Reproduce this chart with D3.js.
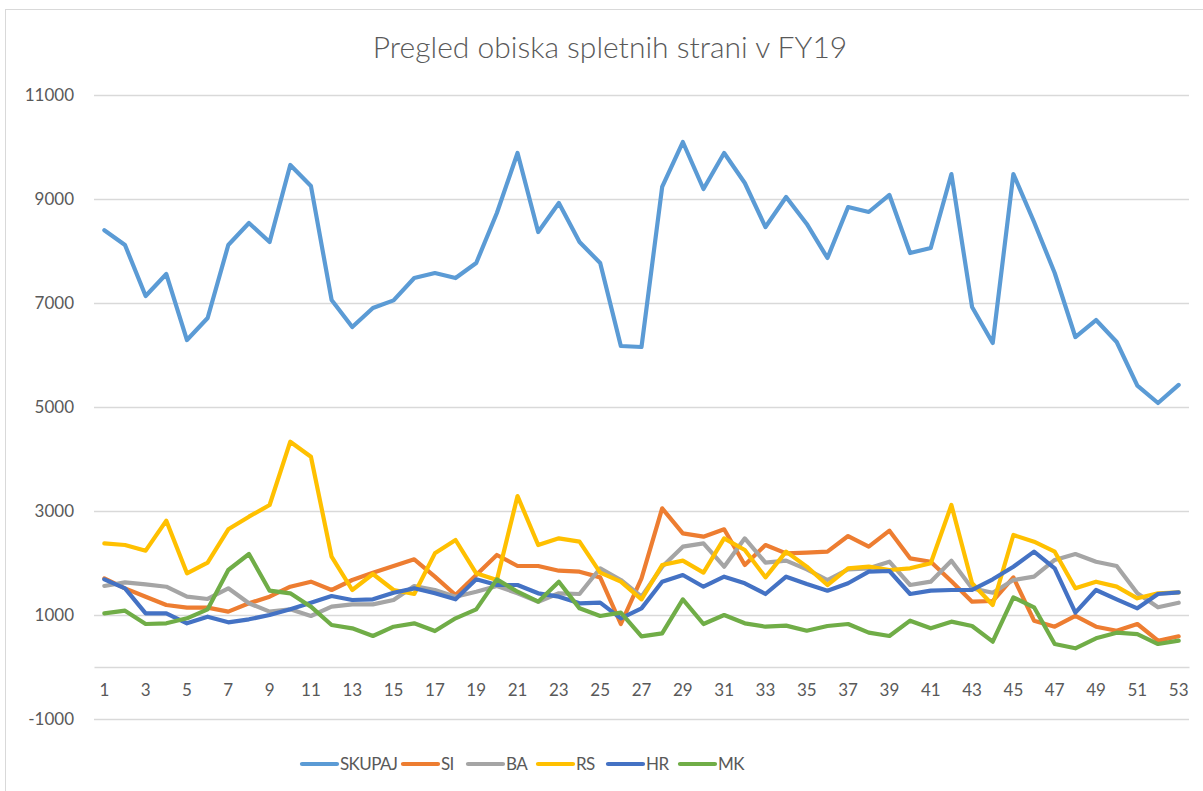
<!DOCTYPE html>
<html><head><meta charset="utf-8">
<script src="https://cdn.jsdelivr.net/npm/d3@7"></script>
<style>html,body{margin:0;padding:0;background:#fff;}svg{display:block;font-family:Lato,"Open Sans",sans-serif;}</style>
</head><body>
<svg id="c" width="1203" height="791"></svg>
<script>
const weeks = d3.range(1, 54);
const seriesNames = ["SKUPAJ","SI","BA","RS","HR","MK"];
const seriesColors = ["#5B9BD5","#ED7D31","#A5A5A5","#FFC000","#4472C4","#70AD47"];
const yTicks = [-1000,1000,3000,5000,7000,9000,11000];

const skupaj = [8400,8115,7135,7557,6288,6711,8115,8538,8173,9654,9250,7058,6538,6904,7050,7480,7577,7480,7769,8730,9885,8365,8923,8173,7769,6173,6154,9231,10096,9192,9885,9308,8461,9038,8520,7865,8846,8750,9077,7961,8057,9480,6923,6231,9480,8557,7577,6346,6673,6250,5410,5077,5425];
const si = [1705,1513,1352,1192,1141,1141,1064,1225,1352,1544,1641,1481,1673,1814,1942,2071,1737,1385,1769,2154,1942,1942,1852,1833,1724,827,1705,3051,2571,2506,2648,1961,2346,2186,2199,2218,2519,2314,2622,2090,2025,1650,1256,1269,1724,891,775,981,775,698,827,506,590];
const ba = [1558,1628,1590,1544,1352,1308,1513,1225,1064,1109,981,1160,1205,1205,1288,1558,1481,1352,1448,1558,1417,1256,1417,1404,1898,1673,1352,1929,2314,2378,1929,2474,2006,2045,1878,1673,1878,1898,2025,1577,1641,2045,1513,1429,1673,1737,2058,2173,2025,1942,1417,1148,1237];
const rs = [2378,2346,2237,2814,1801,2006,2648,2891,3115,4333,4044,2121,1481,1788,1481,1404,2186,2442,1801,1673,3288,2346,2474,2410,1814,1641,1301,1961,2045,1814,2474,2250,1724,2218,1929,1577,1898,1929,1865,1898,1994,3115,1610,1192,2538,2410,2218,1513,1641,1545,1321,1417,1436];
const hr = [1686,1513,1032,1032,840,967,859,917,1000,1109,1237,1365,1288,1301,1429,1513,1417,1301,1686,1577,1577,1417,1352,1225,1237,936,1128,1641,1769,1544,1737,1610,1404,1737,1596,1468,1610,1833,1846,1404,1468,1481,1481,1686,1929,2218,1898,1045,1481,1301,1128,1404,1436];
const mk = [1032,1083,827,840,936,1109,1865,2173,1468,1417,1160,808,744,596,775,840,692,936,1109,1686,1448,1256,1641,1128,981,1045,590,648,1301,827,1000,840,775,795,698,788,827,660,596,891,744,872,788,487,1339,1148,442,360,552,660,634,442,506];

const data = [skupaj, si, ba, rs, hr, mk];

const svg = d3.select("#c");
const plot = {left: 94, right: 1189, top: 95, bottom: 719};

// chart border
svg.append("rect").attr("x",5.5).attr("y",9.5).attr("width",1210).attr("height",800)
  .attr("fill","none").attr("stroke","#d9d9d9").attr("stroke-width",1);

const x = d3.scaleBand().domain(weeks).range([plot.left, plot.right]).paddingInner(0).paddingOuter(0);
const y = d3.scaleLinear().domain([-1000, 11000]).range([plot.bottom, plot.top]);

// gridlines
const yAxis = d3.axisLeft(y).tickValues(yTicks).tickSize(-(plot.right-plot.left)).tickPadding(20).tickFormat(d => String(d));
const gy = svg.append("g").attr("transform",`translate(${plot.left},0)`).call(yAxis);
gy.select(".domain").remove();
gy.selectAll(".tick line").attr("stroke","#d9d9d9").attr("stroke-width",1.3);
gy.selectAll(".tick text").attr("fill","#595959").attr("font-size","17px").attr("font-family","Lato");

// category axis at 0
const xAxis = d3.axisBottom(x).tickSize(0).tickPadding(17).tickFormat(d => d % 2 === 1 ? d : "");
const gx = svg.append("g").attr("transform",`translate(0,${y(0)})`).call(xAxis);
gx.select(".domain").attr("stroke","#d9d9d9").attr("stroke-width",1.3);
gx.selectAll(".tick text").attr("fill","#595959").attr("font-size","17px").attr("font-family","Lato");

// lines
const line = d3.line().x((d,i) => x(weeks[i]) + x.bandwidth()/2).y(d => y(d));
data.forEach((vals, k) => {
  svg.append("path").datum(vals).attr("d", line).attr("fill","none")
    .attr("stroke", seriesColors[k]).attr("stroke-width",4.2)
    .attr("stroke-linejoin","round").attr("stroke-linecap","round");
});

// title
svg.append("text").attr("x",610).attr("y",58).attr("text-anchor","middle")
  .attr("font-size","30px").attr("font-weight",300).attr("fill","#595959")
  .text("Pregled obiska spletnih strani v FY19");

// legend
const legendX = [302, 403, 468, 538, 608, 680];
const lg = svg.append("g");
seriesNames.forEach((n, i) => {
  const g = lg.append("g").attr("transform",`translate(${legendX[i]},764)`);
  g.append("line").attr("x1",0).attr("x2",35).attr("y1",0).attr("y2",0)
    .attr("stroke",seriesColors[i]).attr("stroke-width",4.2).attr("stroke-linecap","round");
  g.append("text").attr("x",38).attr("y",6).attr("font-size","17px").attr("fill","#595959")
    .attr("letter-spacing","-0.6px").text(n);
});
</script>
</body></html>
